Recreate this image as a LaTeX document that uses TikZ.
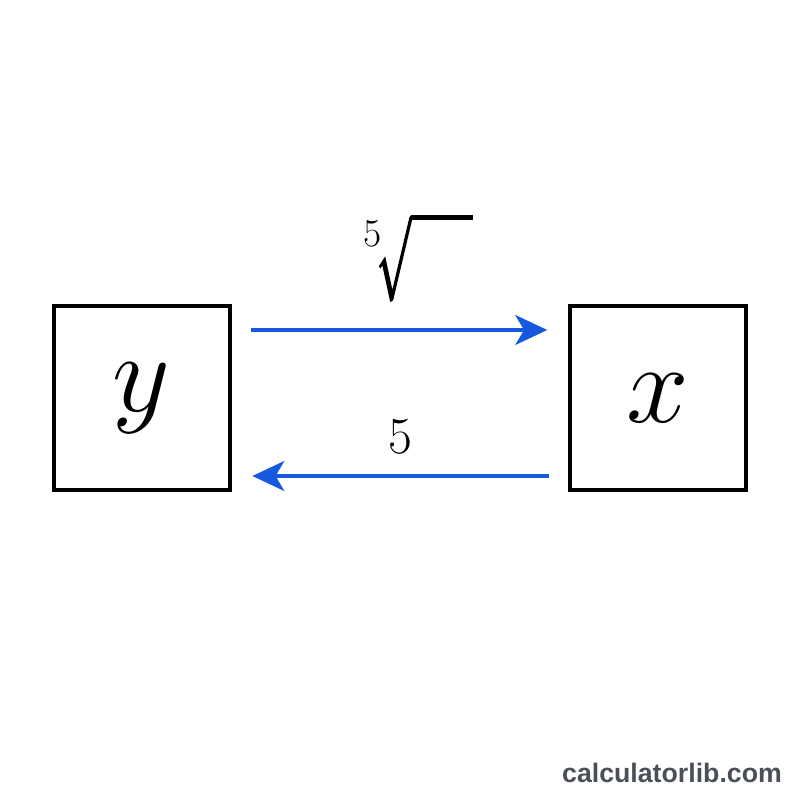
\RequirePackage{fix-cm}
\documentclass[tikz,border=0pt]{standalone}
\usepackage{amsmath}
\usepackage[no-math]{fontspec}
\newfontfamily\markfont{Liberation Sans}
\usetikzlibrary{arrows.meta,positioning}
\definecolor{flowblue}{RGB}{22,88,222}
\definecolor{markgray}{RGB}{74,79,90}
% heavier strokes for the radical sign
\newcommand{\heavyon}{\special{pdf:literal direct 2 Tr 1.3 w}}
\newcommand{\heavyoff}{\special{pdf:literal direct 0 Tr 0.4 w}}
\newsavebox\radbox
\newcommand{\fifthroot}{%
  \sbox\radbox{\heavyon$\sqrt[\leftroot{2}\uproot{2}\mbox{\heavyoff\fontsize{28}{30}\selectfont 5\kern7pt\heavyon}]{\rule{0pt}{1.9em}\hspace{1.75em}}$\heavyoff}%
  \usebox\radbox\llap{\rule[\dimexpr\ht\radbox-3pt\relax]{1.75em}{3pt}}}
\begin{document}
\begin{tikzpicture}[
  vbox/.style={draw,line width=2.8pt,minimum width=4.4cm,minimum height=4.6cm,inner sep=0pt,
    font=\fontsize{80}{96}\selectfont},
  flow/.style={flowblue,line width=2.2pt,shorten <=0.48cm,shorten >=0.52cm,
    -{Stealth[length=0.8cm,width=0.75cm,inset=0.22cm]}},
  lbl/.style={inner sep=0pt}]
  \useasboundingbox (0,0) rectangle (20,20);
  % the two boxes
  \node[vbox] (ybox) at (3.54,10.05) {$y$};
  \node[vbox] (xbox) at (16.45,10.05) {$x$};
  % forward: fifth root
  \draw[flow] ([yshift=1.7cm]ybox.east) -- ([yshift=1.7cm]xbox.west);
  \node[lbl,font=\fontsize{25}{30}\selectfont] (rootlbl) at (10.38,13.55) {\fifthroot};
  % backward: fifth power
  \draw[flow] ([yshift=-1.95cm]xbox.west) -- ([yshift=-1.95cm]ybox.east);
  \node[lbl,font=\fontsize{37}{44}\selectfont] (powlbl) at (10,9.075) {$5$};
  % watermark
  \node[markgray,font=\markfont\bfseries\fontsize{19}{23}\selectfont] (mark) at (16.8,0.675) {calculatorlib.com};
\end{tikzpicture}
\end{document}
